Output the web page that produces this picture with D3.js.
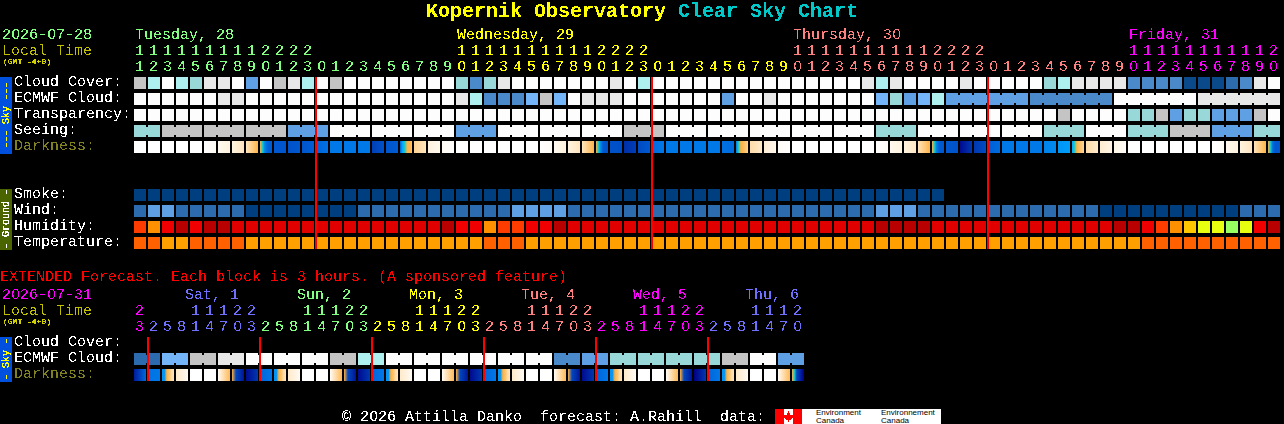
<!DOCTYPE html>
<html>
<head>
<meta charset="utf-8">
<title>Kopernik Observatory Clear Sky Chart</title>
<script src="https://cdnjs.cloudflare.com/ajax/libs/d3/7.8.5/d3.min.js"></script>
<style>
  html, body { margin: 0; padding: 0; background: #000; overflow: hidden; }
  svg { display: block; shape-rendering: crispEdges; }
  text { font-family: "Liberation Mono", "DejaVu Sans Mono", monospace; font-size: 15px; white-space: pre; }
</style>
</head>
<body>
<svg id="chart" width="1284" height="424"></svg>
<script>
// hours along the top and in the extended part
var hours = [11,12,13,14,15,16,17,18,19,20,21,22,23,
  0,1,2,3,4,5,6,7,8,9,10,11,12,13,14,15,16,17,18,19,20,21,22,23,
  0,1,2,3,4,5,6,7,8,9,10,11,12,13,14,15,16,17,18,19,20,21,22,23,
  0,1,2,3,4,5,6,7,8,9,10,11,12,13,14,15,16,17,18,19,20];
var extHours = [23,
  2,5,8,11,14,17,20,23, 2,5,8,11,14,17,20,23, 2,5,8,11,14,17,20,23,
  2,5,8,11,14,17,20,23, 2,5,8,11,14,17,20,23, 2,5,8,11,14,17,20];

var dayNames = ['Tuesday, 28', 'Wednesday, 29', 'Thursday, 30', 'Friday, 31'];
var dayStart = [0, 23, 47, 71];
var dayColor = ['#80ff80', '#ffff00', '#ff8080', '#ff00ff'];
var midnights = [13, 37, 61];

var extDayNames = ['Sat, 1', 'Sun, 2', 'Mon, 3', 'Tue, 4', 'Wed, 5', 'Thu, 6'];
var extDayStart = [1, 9, 17, 25, 33, 41];
var extDayColor = ['#7070ff', '#80ff80', '#ffff00', '#ff8080', '#ff00ff', '#7070ff'];

// sky colour classes, 0 = best (dark blue), 10 = worst (white)
var skyColor = ['#003f7f','#0a4a8a','#2c6cae','#4a8aca','#5f9fe4','#74b4f8','#98d8d8','#aef0f0','#c4c4c4','#e8e8e8','#fdfdfd'];

var cloud = [8,7,10,7,6,9,9,10,4,10,8,9,7,10,8,10,10,10,10,10,10,10,10,6,3,6,9,10,10,10,10,10,10,10,9,10,7,10,10,10,10,10,10,10,10,10,10,10,10,10,10,10,9,7,9,10,10,10,10,9,10,10,10,10,10,6,7,9,9,9,9,3,3,3,3,1,1,1,2,3,9,10];
var ecmwf = [10,10,10,10,10,10,9,9,10,10,10,10,10,10,10,10,10,10,10,10,10,10,10,9,7,3,3,3,5,8,5,10,9,9,9,10,10,10,10,10,10,10,4,10,10,9,10,10,10,10,10,10,10,5,6,4,5,7,4,4,4,4,4,4,3,3,3,3,3,3,10,10,10,10,10,10,9,9,9,9,9,9];
var transparency = [10,10,10,10,10,10,10,10,10,10,10,10,10,10,10,10,10,10,10,10,10,10,10,10,10,10,10,10,10,10,10,10,10,10,10,10,10,10,10,10,10,10,10,10,10,10,10,10,10,10,10,10,10,10,10,10,10,10,10,10,10,10,10,10,10,10,8,10,10,10,10,6,6,8,4,6,6,4,4,4,8,10];
var seeing = [6,6,8,8,8,8,8,8,8,8,8,4,4,4,10,10,10,10,10,10,10,10,10,4,4,4,10,10,10,10,10,10,10,10,10,8,8,8,10,10,10,10,10,10,10,10,10,10,10,10,10,10,10,6,6,6,10,10,10,10,10,10,10,10,10,6,6,6,10,10,10,6,6,6,8,8,8,4,4,4,6,6];

// darkness classes at points across each cell
var darkColor = ['#ffffff','#fff3e0','#ffdca8','#ffb040','#20c8c8','#00a8ff','#0078e8','#0058d0','#0038b0','#000a90'];
var darkness = [[0],[0],[0],[0],[0],[0,.4],[.5,1],[1,1.6],[1.6,2.9],[3,4,5.8,6.6,6.8,6.9],[7,7.1],[7.2,7],[7.1,6.8],[6.6,6.2],[6,6],[6,6],[6,6],[7.8,7.2],[7.1,6.9],[6.9,5,4,3,2.9,2.6],[2.2,1.6],[1,.6],[.4,.1],
  [0],[0],[0],[0],[0],[0],[0,.3],[.5,1],[1,1.6],[1.6,2.9],[3,4,5.8,7,7.1,7.2],[7.2,7.3],[8.2,7.8],[7.4,7],[6.4,6],[6,6],[6,6],[6,6],[6,6],[6.2,6.4],[6,4,3,2.8,2.5,2.2],[2,1.4],[1.2,.6],[.3,.1],
  [0],[0],[0],[0],[0],[0],[0,.3],[.6,1],[1,1.5],[1.7,2.9],[3,4,6,6.9,7,7],[7,7.2],[9,8],[8,7.4],[6.8,6.4],[6,6],[6,6],[6,6],[5.8,5.6],[5.4,5.2],[5,4,3,2.7,2.4,2.1],[2,1.4],[1.3,.8],[.7,.3],
  [0],[0],[0],[0],[0],[0],[0,.3],[.6,1],[1,1.6],[1.7,2.9],[3,4,6.4,7,7,7]];
var extDarkness = [[8.6,6.5],[6.2,6],[5.4,5.4,3,2.6,2,1.6],[1.4,.4],[0],[0],[.3,2.8],[3,7.6,8.2,8.8],
  [9,8],[6.6,6],[5.4,5.4,3,2.6,2,1.6],[1.4,.4],[0],[0],[.3,2.8],[3,7.6,8.2,8.8],
  [9,8],[6.6,6],[5.4,5.4,3,2.6,2,1.6],[1.4,.4],[0],[0],[.3,2.8],[3,7.6,8.2,8.8],
  [9,8],[6.6,6],[5.4,5.4,3,2.6,2,1.6],[1.4,.4],[0],[0],[.3,2.8],[3,7.6,8.2,8.8],
  [9,8],[6.6,6],[5.4,5.4,3,2.6,2,1.6],[1.4,.4],[0],[0],[.3,2.8],[3,7.6,8.2,8.8],
  [9.4,8],[6.6,6],[5.4,5.4,3,2.6,2,1.6],[1.4,.4],[0],[0],[.3,2.8],[3,4,7.6,8.2,8.8,9.4]];

var smoke = d3.range(58).map(function() { return 0; });
var wind = [2,4,4,2,2,2,2,2,0,0,0,0,0,0,0,0,2,2,2,2,2,2,2,2,2,2,2,4,4,4,4,2,2,2,2,2,2,2,2,2,2,2,2,2,2,2,2,2,2,2,2,2,2,4,4,4,2,2,2,2,2,2,2,2,2,2,2,2,2,0,0,0,0,0,0,0,0,0,0,2,2,2];

var humColor = ['#b80000','#e00000','#f00000','#ff3c00','#ff9000','#ffc800','#e8ff10','#98ff60'];
var humidity = [3,4,2,0,2,0,0,1,1,1,1,1,1,1,1,1,1,1,1,1,1,1,0,2,2,4,3,3,2,2,0,1,1,1,1,1,1,1,1,1,1,1,1,1,1,1,1,1,1,1,1,1,1,0,0,0,0,1,1,1,1,1,1,1,1,1,1,1,1,1,0,0,2,3,4,5,6,6,7,6,2,0];
var tempColor = ['#ff6000','#ffa000'];
var temperature = [0,0,1,1,0,0,0,0,1,1,1,1,1,1,1,1,1,1,1,1,1,1,1,1,1,0,0,0,1,1,1,1,1,1,1,1,1,1,1,1,1,1,1,1,1,1,1,1,1,1,1,1,1,1,1,1,1,1,1,1,1,1,1,1,1,1,1,1,1,1,1,1,0,0,0,0,0,0,0,0,0,0];

var extEcmwf = [2,5,8,9,10,10,10,8,7,10,10,10,10,10,10,3,4,6,6,6,6,8,10,4];

var skyLabels = ['Cloud Cover:', 'ECMWF Cloud:', 'Transparency:', 'Seeing:', 'Darkness:'];
var groundLabels = ['Smoke:', 'Wind:', 'Humidity:', 'Temperature:'];
var extLabels = ['Cloud Cover:', 'ECMWF Cloud:', 'Darkness:'];

var svg = d3.select('#chart');
var defs = svg.append('defs');

// hard edged text, the original is a bitmap font
function hardFilter(id, table) {
  defs.append('filter').attr('id', id)
    .attr('color-interpolation-filters', 'sRGB')
    .attr('filterUnits', 'userSpaceOnUse')
    .attr('x', 0).attr('y', 0).attr('width', 1284).attr('height', 424)
    .append('feComponentTransfer').append('feFuncA')
    .attr('type', 'discrete').attr('tableValues', table);
}
hardFilter('bitmap', '0 0 1 1');
hardFilter('bitmapSmall', '0 1 1 1');

var x = d3.scaleBand().domain(d3.range(hours.length)).range([134, 1280]).paddingInner(2 / 14);
var xExt = d3.scaleBand().domain(d3.range(extHours.length)).range([134, 804]).paddingInner(2 / 14);
var ySky = d3.scaleBand().domain(skyLabels).range([77, 153]).paddingInner(4 / 16);
var yGround = d3.scaleBand().domain(groundLabels).range([189, 249]).paddingInner(4 / 16);
var yExt = d3.scaleBand().domain(extLabels).range([337, 381]).paddingInner(4 / 16);

var darkScale = d3.scaleLinear().domain(d3.range(darkColor.length)).range(darkColor);

var marks = svg.append('g');
var texts = svg.append('g').attr('filter', 'url(#bitmap)');
var smallTexts = svg.append('g').attr('filter', 'url(#bitmapSmall)');
var logoTexts = svg.append('g');

// the zero of the original has no dot, so zeros come from a plain sans
function txt(s, px, py, color, size, weight) {
  var t = texts.append('text').attr('y', py).attr('fill', color);
  if (size) t.style('font-size', size + 'px');
  if (weight) t.style('font-weight', weight);
  var adv = (size || 15) * 0.6, pos = 0;
  String(s).split(/(0)/).filter(function(p) { return p.length; }).forEach(function(p) {
    var sp = t.append('tspan').attr('x', px + pos * adv).text(p);
    if (p == '0') sp.attr('x', px + pos * adv + 0.5).style('font-family', '"Liberation Sans"');
    pos += p.length;
  });
  return t;
}

// one row of blocks; joined(i) says block i runs on into the next one
function row(values, scale, top, height, colors, joined) {
  var g = marks.append('g');
  g.selectAll('rect.cell').data(values).enter().append('rect').attr('class', 'cell')
    .attr('x', function(d, i) { return Math.round(scale(i)); })
    .attr('y', top)
    .attr('width', scale.bandwidth())
    .attr('height', height)
    .attr('fill', function(d) { return colors[d]; });
  if (joined) {
    var idx = d3.range(values.length - 1).filter(joined);
    g.selectAll('rect.bridge').data(idx).enter().append('rect').attr('class', 'bridge')
      .attr('x', function(i) { return Math.round(scale(i) + scale.bandwidth()); })
      .attr('y', top + 2)
      .attr('width', scale.step() - scale.bandwidth())
      .attr('height', height - 4)
      .attr('fill', function(i) { return colors[values[i]]; });
  }
}

function darkRow(values, scale, top, height, prefix) {
  var grads = defs.selectAll('linearGradient.' + prefix).data(values).enter().append('linearGradient')
    .attr('class', prefix)
    .attr('id', function(d, i) { return prefix + i; });
  grads.selectAll('stop').data(function(d) { return d.length > 1 ? d : [d[0], d[0]]; }).enter().append('stop')
    .attr('offset', function(d, i, n) { return i / (n.length - 1); })
    .attr('stop-color', function(d) { return darkScale(d); });
  marks.append('g').selectAll('rect').data(values).enter().append('rect')
    .attr('x', function(d, i) { return Math.round(scale(i)); })
    .attr('y', top)
    .attr('width', scale.bandwidth())
    .attr('height', height)
    .attr('fill', function(d, i) { return 'url(#' + prefix + i + ')'; });
}

// top section
var h = ySky.bandwidth();
row(cloud, x, ySky('Cloud Cover:'), h, skyColor);
row(ecmwf, x, ySky('ECMWF Cloud:'), h, skyColor, function(i) { return i >= 58 && (i - 58) % 6 != 5; });
row(transparency, x, ySky('Transparency:'), h, skyColor);
row(seeing, x, ySky('Seeing:'), h, skyColor, function(i) { return i % 3 != 1; });
darkRow(darkness, x, ySky('Darkness:'), h, 'dark');
row(smoke, x, yGround('Smoke:'), h, skyColor);
row(wind, x, yGround('Wind:'), h, skyColor);
row(humidity, x, yGround('Humidity:'), h, humColor);
row(temperature, x, yGround('Temperature:'), h, tempColor);

// extended section
row(extEcmwf.flatMap(function(d) { return [d, d]; }), xExt, yExt('ECMWF Cloud:'), h, skyColor, function(i) { return i % 2 == 0; });
darkRow(extDarkness, xExt, yExt('Darkness:'), h, 'extdark');

// midnight lines
marks.append('g').selectAll('rect').data(midnights).enter().append('rect')
  .attr('x', function(d) { return Math.round(x(d)) - 1; }).attr('y', 77).attr('width', 2).attr('height', 172).attr('fill', '#ff0000');
marks.append('g').selectAll('rect').data(extDayStart).enter().append('rect')
  .attr('x', function(d) { return Math.round(xExt(d)) - 1; }).attr('y', 337).attr('width', 2).attr('height', 44).attr('fill', '#ff0000');

// side bars
marks.append('rect').attr('x', 0).attr('y', 77).attr('width', 12).attr('height', 77).attr('fill', '#0050e0');
marks.append('rect').attr('x', 0).attr('y', 189).attr('width', 12).attr('height', 61).attr('fill', '#4a6400');
marks.append('rect').attr('x', 0).attr('y', 337).attr('width', 12).attr('height', 45).attr('fill', '#0050e0');

function sideText(s, cy, color) {
  smallTexts.append('text').attr('transform', 'translate(9,' + cy + ') rotate(-90)')
    .attr('text-anchor', 'middle').attr('fill', color).style('font-size', '10px').text(s);
}
sideText('--- Sky ---', 115, '#ffff00');
sideText('- Ground -', 219, '#ffffff');
sideText('- Sky -', 359, '#ffff00');

function gmt(py) {
  smallTexts.append('text').attr('x', 3).attr('y', py).attr('fill', '#d0d000').style('font-size', '8px').text('(GMT -4+0)');
}

// title
txt('Kopernik Observatory', 426, 17, '#ffff00', 20, 'bold');
txt('Clear Sky Chart', 678, 17, '#00c8c8', 20, 'bold');

// top headers
txt('2026-07-28', 2, 39, '#80ff80');
txt('Local Time', 2, 55, '#c0c000');
gmt(64);

function dayOf(i, starts) { return d3.bisectRight(starts, i) - 1; }
hours.forEach(function(hr, i) {
  var c = dayColor[dayOf(i, dayStart)];
  if (hr >= 10) txt(Math.floor(hr / 10), x(i) + 1, 55, c);
  txt(hr % 10, x(i) + 1, 71, c);
});
dayNames.forEach(function(s, i) { txt(s, x(dayStart[i]) + 1, 39, dayColor[i]); });

skyLabels.forEach(function(s) { txt(s, 14, ySky(s) + 9, s == 'Darkness:' ? '#808020' : '#ffffff'); });
groundLabels.forEach(function(s) { txt(s, 14, yGround(s) + 9, '#ffffff'); });
extLabels.forEach(function(s) { txt(s, 14, yExt(s) + 9, s == 'Darkness:' ? '#808020' : '#ffffff'); });

// extended headers
txt('EXTENDED Forecast. Each block is 3 hours. (A sponsored feature)', 0, 281, '#ff0000');
txt('2026-07-31', 2, 299, '#ff00ff');
txt('Local Time', 2, 315, '#c0c000');
gmt(324);

extHours.forEach(function(hr, i) {
  var c = i == 0 ? '#ff00ff' : extDayColor[dayOf(i, extDayStart)];
  if (hr >= 10) txt(Math.floor(hr / 10), xExt(i) + 1, 315, c);
  txt(hr % 10, xExt(i) + 1, 331, c);
});
extDayNames.forEach(function(s, i) { txt(s, xExt(extDayStart[i]) + 37, 299, extDayColor[i]); });

// footer
txt('\u00a9 2026 Attilla Danko  forecast: A.Rahill  data:', 342, 421, '#ffffff');
marks.append('rect').attr('x', 775).attr('y', 409).attr('width', 166).attr('height', 15).attr('fill', '#ffffff');
marks.append('rect').attr('x', 775).attr('y', 409).attr('width', 9).attr('height', 15).attr('fill', '#ff0000');
marks.append('rect').attr('x', 793).attr('y', 409).attr('width', 9).attr('height', 15).attr('fill', '#ff0000');
marks.append('path').attr('fill', '#ff0000')
  .attr('d', 'M788.5 411l1 2 1-.5-.5 3 1.5-1 .5 1 1.5-.3-.7 2 .7.5-3 2h-1.5v2h-1v-2h-1.5l-3-2 .7-.5-.7-2 1.5.3.5-1 1.5 1-.5-3 1 .5z');
['Environment', 'Environnement'].forEach(function(s, i) {
  var px = i == 0 ? 816 : 881;
  logoTexts.append('text').attr('x', px).attr('y', 415).attr('fill', '#000000').style('font-size', '8px').style('font-family', 'Liberation Sans').text(s);
  logoTexts.append('text').attr('x', px).attr('y', 423).attr('fill', '#000000').style('font-size', '8px').style('font-family', 'Liberation Sans').text('Canada');
});
</script>
</body>
</html>
